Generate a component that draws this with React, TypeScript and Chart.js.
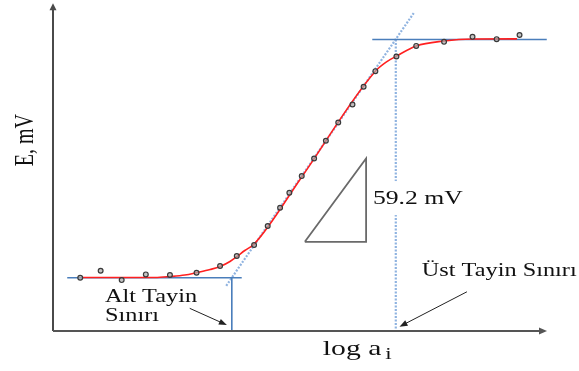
import { useEffect, useRef } from 'react';
import { Chart, registerables } from 'chart.js';

Chart.register(...registerables);

// Measured points (log a_i, E in mV)
const pointLogA = [-7.56, -7.23, -6.89, -6.5, -6.11, -5.68, -5.3, -5.03, -4.75, -4.53, -4.33, -4.18, -3.98, -3.78, -3.59, -3.39, -3.16, -2.98, -2.79, -2.45, -2.13, -1.68, -1.22, -0.83, -0.46];
const pointE = [39.2, 44.4, 37.5, 41.7, 41.2, 42.9, 47.9, 55.2, 63.3, 77.3, 90.8, 101.8, 114.1, 127.1, 140.2, 153.6, 166.9, 179.9, 191.4, 202.2, 210.0, 213.0, 216.7, 215.0, 218.1];

// Fitted (red) curve
const fitLogA = [-7.53, -6.35, -6.11, -5.87, -5.67, -5.46, -5.3, -5.14, -5.03, -4.9, -4.75, -3.98, -2.79, -2.61, -2.45, -2.13, -1.68, -1.23, -0.5];
const fitE = [39.4, 39.4, 40.1, 41.2, 43.1, 45.3, 47.5, 51.2, 54.8, 59.3, 64.0, 113.5, 191.4, 198.3, 202.5, 210.0, 213.6, 215.1, 215.2];

// Construction lines
const lowerPlateauLogA = [-7.77, -4.95];
const lowerPlateauE = [39.2, 39.2];
const upperPlateauLogA = [-2.84, -0.02];
const upperPlateauE = [214.7, 214.7];
const lowerLimitLogA = [-5.11, -5.11];
const lowerLimitE = [39.2, 0];
const upperLimitLogA = [-2.46, -2.46];
const upperLimitE = [214.7, 0];
const tangentLogA = [-5.2, -2.17];
const tangentE = [33.3, 234.2];
const triangleLogA = [-3.93, -2.94, -2.94, -3.93];
const triangleE = [65.7, 127.1, 65.7, 65.7];

// Axis ranges
const logAMin = -8;
const logAMax = 0;
const eMin = 0;
const eMax = 240;

// Text labels and arrows (positions in data units)
const slopeLabel = '59.2 mV';
const lowerLabel = ['Alt Tayin', 'Sınırı'];
const upperLabel = 'Üst Tayin Sınırı';
const xTitle = 'log a';
const xTitleSub = 'i';
const yTitle = 'E, mV';

const pts = (xs: number[], ys: number[]) => xs.map((x, i) => ({ x, y: ys[i] }));

const SERIF = '"Liberation Serif", "DejaVu Serif", serif';
const SX = 1.35;

function stretchedText(ctx: CanvasRenderingContext2D, text: string, x: number, y: number, size: number, align: CanvasTextAlign = 'left') {
  ctx.save();
  ctx.translate(x, y);
  ctx.scale(SX, 1);
  ctx.font = `${size}px ${SERIF}`;
  ctx.textAlign = align;
  ctx.textBaseline = 'alphabetic';
  ctx.fillStyle = '#111';
  ctx.fillText(text, 0, 0);
  const w = ctx.measureText(text).width * SX;
  ctx.restore();
  return w;
}

function arrow(ctx: CanvasRenderingContext2D, x1: number, y1: number, x2: number, y2: number, color: string, width: number, head: number, half: number) {
  const a = Math.atan2(y2 - y1, x2 - x1);
  ctx.save();
  ctx.strokeStyle = color;
  ctx.fillStyle = color;
  ctx.lineWidth = width;
  ctx.beginPath();
  ctx.moveTo(x1, y1);
  ctx.lineTo(x2 - Math.cos(a) * head * 0.8, y2 - Math.sin(a) * head * 0.8);
  ctx.stroke();
  ctx.beginPath();
  ctx.moveTo(x2, y2);
  ctx.lineTo(x2 - Math.cos(a) * head - Math.sin(a) * half, y2 - Math.sin(a) * head + Math.cos(a) * half);
  ctx.lineTo(x2 - Math.cos(a) * head + Math.sin(a) * half, y2 - Math.sin(a) * head - Math.cos(a) * half);
  ctx.closePath();
  ctx.fill();
  ctx.restore();
}

const annotPlugin = {
  id: 'annot',
  afterDatasetsDraw(chart: any) {
    const ctx: CanvasRenderingContext2D = chart.ctx;
    const xs = chart.scales.x;
    const ys = chart.scales.y;
    const px = (v: number) => xs.getPixelForValue(v);
    const py = (v: number) => ys.getPixelForValue(v);

    // axes
    const x0 = px(logAMin);
    const y0 = py(eMin);
    arrow(ctx, x0, y0, x0, py(eMax) - 2, '#4a4a4a', 2, 7, 3.5);
    arrow(ctx, x0, y0, px(logAMax) - 1, y0, '#555', 2, 8, 3.5);

    // slope label with white background
    const sx = px(-2.83);
    const sy = py(93.5);
    ctx.save();
    ctx.fillStyle = '#fff';
    ctx.fillRect(sx - 2, sy - 23, 92, 34);
    ctx.restore();
    stretchedText(ctx, slopeLabel, sx, sy, 19);

    // lower limit label
    stretchedText(ctx, lowerLabel[0], px(-7.16), py(21.6), 18);
    stretchedText(ctx, lowerLabel[1], px(-7.16), py(7.6), 18);
    arrow(ctx, px(-5.79), py(16.7), px(-5.19), py(4.4), '#222', 1, 8, 3);

    // upper limit label
    stretchedText(ctx, upperLabel, px(-2.04), py(40.5), 18);
    arrow(ctx, px(-1.31), py(28.9), px(-2.4), py(3.2), '#222', 1, 8, 3);

    // x title
    const tx = px(-3.64);
    const ty = py(-17.7);
    const w = stretchedText(ctx, xTitle, tx, ty, 22);
    stretchedText(ctx, xTitleSub, tx + w + 4, ty + 4, 17);

    // y title (rotated)
    ctx.save();
    ctx.translate(px(-8.32), py(140.6));
    ctx.scale(SX, 1);
    ctx.rotate(-Math.PI / 2);
    ctx.font = `20px ${SERIF}`;
    ctx.textAlign = 'center';
    ctx.textBaseline = 'alphabetic';
    ctx.fillStyle = '#111';
    ctx.fillText(yTitle, 0, 0);
    ctx.restore();
  },
};

export default function App() {
  const ref = useRef<HTMLCanvasElement | null>(null);

  useEffect(() => {
    if (!ref.current) return;
    const blue = '#4a7ebb';
    const lightBlue = '#8fb3e0';
    const chart = new Chart(ref.current, {
      type: 'scatter',
      data: {
        datasets: [
          {
            data: pts(pointLogA, pointE),
            pointStyle: 'circle',
            pointRadius: 2.4,
            pointBorderWidth: 1.2,
            pointBorderColor: '#3a3a3a',
            pointBackgroundColor: 'rgba(170,170,170,0.7)',
            showLine: false,
          },
          {
            data: pts(fitLogA, fitE),
            showLine: true,
            borderColor: '#ff2020',
            borderWidth: 1.6,
            pointRadius: 0,
            cubicInterpolationMode: 'monotone',
          },
          {
            data: pts(lowerPlateauLogA, lowerPlateauE),
            showLine: true,
            borderColor: blue,
            borderWidth: 1.4,
            pointRadius: 0,
          },
          {
            data: pts(upperPlateauLogA, upperPlateauE),
            showLine: true,
            borderColor: blue,
            borderWidth: 1.4,
            pointRadius: 0,
          },
          {
            data: pts(lowerLimitLogA, lowerLimitE),
            showLine: true,
            borderColor: blue,
            borderWidth: 1.6,
            pointRadius: 0,
          },
          {
            data: pts(upperLimitLogA, upperLimitE),
            showLine: true,
            borderColor: lightBlue,
            borderWidth: 2.2,
            borderDash: [2, 1.5],
            pointRadius: 0,
          },
          {
            data: pts(tangentLogA, tangentE),
            showLine: true,
            borderColor: lightBlue,
            borderWidth: 2.2,
            borderDash: [2, 1.5],
            pointRadius: 0,
            clip: false,
          },
          {
            data: pts(triangleLogA, triangleE),
            showLine: true,
            borderColor: '#6a6a6a',
            borderWidth: 1.8,
            pointRadius: 0,
          },
        ] as any,
      },
      options: {
        animation: false,
        responsive: false,
        events: [],
        layout: { padding: { left: 53, right: 31, top: 5, bottom: 40 } },
        plugins: { legend: { display: false }, tooltip: { enabled: false } },
        scales: {
          x: { type: 'linear', min: logAMin, max: logAMax, display: false },
          y: { type: 'linear', min: eMin, max: eMax, display: false },
        },
      },
      plugins: [annotPlugin as any],
    });
    return () => chart.destroy();
  }, []);

  return (
    <div style={{ position: 'fixed', left: 0, top: 0, width: 579, height: 371, background: '#fff' }}>
      <canvas ref={ref} width={579} height={371} style={{ display: 'block' }} />
    </div>
  );
}
